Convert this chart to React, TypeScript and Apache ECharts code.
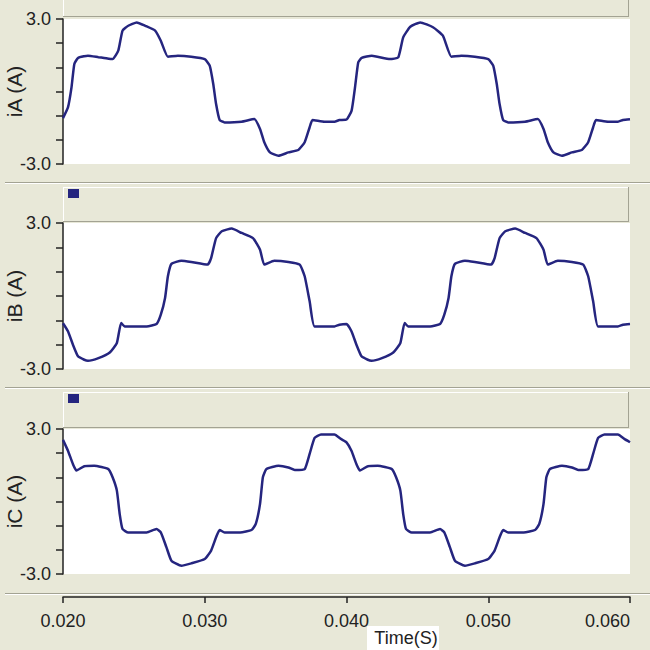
import React, { useEffect, useRef } from "react";
import * as echarts from "echarts";

// Time (s) / current (A) samples
const iA: [number, number][] = [
  [0.0200, -1.10], [0.02035, -0.66], [0.0206, 0.17], [0.0208, 1.14], [0.02106, 1.39],
  [0.0215, 1.46], [0.02176, 1.48], [0.0225, 1.42], [0.0229, 1.39], [0.0235, 1.34],
  [0.0239, 1.69], [0.0242, 2.52], [0.0246, 2.72], [0.0252, 2.86], [0.0258, 2.72],
  [0.0265, 2.52], [0.0269, 2.10], [0.0274, 1.44], [0.0281, 1.48], [0.02905, 1.44],
  [0.0300, 1.34], [0.03035, 1.07], [0.0306, 0.31], [0.0308, -0.52], [0.03105, -1.18],
  [0.0314, -1.28], [0.0326, -1.25], [0.0335, -1.14], [0.0339, -1.55], [0.0342, -2.10],
  [0.0346, -2.52], [0.0352, -2.66], [0.0359, -2.52], [0.0366, -2.42], [0.03705, -2.10],
  [0.0374, -1.48], [0.0376, -1.18], [0.03845, -1.25], [0.03915, -1.25], [0.0395, -1.18],
  [0.0400, -1.16], [0.04036, -0.79], [0.0406, 0.17], [0.04083, 1.21], [0.04107, 1.39],
  [0.04178, 1.48], [0.04307, 1.34], [0.04365, 1.41], [0.0440, 2.24], [0.0445, 2.68],
  [0.0452, 2.86], [0.0461, 2.66], [0.0468, 2.31], [0.0474, 1.44], [0.0481, 1.48],
  [0.04905, 1.44], [0.0500, 1.34], [0.05035, 1.07], [0.0506, 0.31], [0.0508, -0.52],
  [0.05105, -1.18], [0.0514, -1.28], [0.0526, -1.25], [0.0535, -1.14], [0.0539, -1.55],
  [0.0542, -2.10], [0.0546, -2.52], [0.0552, -2.66], [0.0559, -2.52], [0.0566, -2.42],
  [0.05705, -2.10], [0.0574, -1.48], [0.0576, -1.18], [0.05845, -1.25], [0.05915, -1.25],
  [0.0595, -1.18], [0.0600, -1.15],
];

const iB: [number, number][] = [
  [0.0200, -1.12], [0.02035, -1.45], [0.0207, -2.00], [0.02106, -2.48], [0.0215, -2.62],
  [0.02176, -2.66], [0.0225, -2.55], [0.0233, -2.32], [0.0238, -1.93], [0.0241, -1.11],
  [0.02435, -1.25], [0.0259, -1.25], [0.0266, -1.15], [0.0269, -0.77], [0.0272, -0.08],
  [0.0274, 0.81], [0.02765, 1.32], [0.02835, 1.45], [0.02905, 1.40], [0.0302, 1.29],
  [0.03045, 1.56], [0.0308, 2.38], [0.0312, 2.66], [0.0319, 2.77], [0.0326, 2.59],
  [0.0334, 2.38], [0.0339, 1.90], [0.0342, 1.29], [0.0349, 1.45], [0.0359, 1.40],
  [0.0367, 1.29], [0.03705, 0.81], [0.0374, -0.22], [0.03775, -1.25], [0.03915, -1.25],
  [0.0395, -1.18], [0.0400, -1.15], [0.04035, -1.45], [0.0407, -2.00], [0.04106, -2.48],
  [0.0415, -2.62], [0.04176, -2.66], [0.0425, -2.55], [0.0433, -2.32], [0.0438, -1.93],
  [0.0441, -1.11], [0.04435, -1.25], [0.0459, -1.25], [0.0466, -1.15], [0.0469, -0.77],
  [0.0472, -0.08], [0.0474, 0.81], [0.04765, 1.32], [0.04835, 1.45], [0.04905, 1.40],
  [0.0502, 1.29], [0.05045, 1.56], [0.0508, 2.38], [0.0512, 2.66], [0.0519, 2.77],
  [0.0526, 2.59], [0.0534, 2.38], [0.0539, 1.90], [0.0542, 1.29], [0.0549, 1.45],
  [0.0559, 1.40], [0.0567, 1.29], [0.05705, 0.81], [0.0574, -0.22], [0.05775, -1.25],
  [0.05915, -1.25], [0.0595, -1.18], [0.0600, -1.15],
];

const iC: [number, number][] = [
  [0.0200, 2.55], [0.02035, 2.10], [0.0207, 1.55], [0.02095, 1.28], [0.0215, 1.46],
  [0.0222, 1.48], [0.0232, 1.34], [0.0235, 1.00], [0.0238, 0.45], [0.0240, -0.52],
  [0.0242, -1.14], [0.0246, -1.28], [0.0259, -1.28], [0.0266, -1.14], [0.0269, -1.28],
  [0.0273, -1.90], [0.02765, -2.45], [0.02835, -2.66], [0.02905, -2.56], [0.0300, -2.38],
  [0.03045, -2.03], [0.0308, -1.48], [0.03105, -1.18], [0.0314, -1.28], [0.0325, -1.28],
  [0.0333, -1.18], [0.0336, -0.93], [0.0339, -0.10], [0.0341, 1.00], [0.03435, 1.34],
  [0.0352, 1.48], [0.0359, 1.41], [0.03635, 1.30], [0.03705, 1.34], [0.0374, 1.97],
  [0.03775, 2.63], [0.0382, 2.77], [0.03915, 2.77], [0.0396, 2.59], [0.0400, 2.45],
  [0.04035, 2.10], [0.0407, 1.55], [0.04095, 1.28], [0.0415, 1.46], [0.0422, 1.48],
  [0.0432, 1.34], [0.0435, 1.00], [0.0438, 0.45], [0.0440, -0.52], [0.0442, -1.14],
  [0.0446, -1.28], [0.0459, -1.28], [0.0466, -1.14], [0.0469, -1.28], [0.0473, -1.90],
  [0.04765, -2.45], [0.04835, -2.66], [0.04905, -2.56], [0.0500, -2.38], [0.05045, -2.03],
  [0.0508, -1.48], [0.05105, -1.18], [0.0514, -1.28], [0.0525, -1.28], [0.0533, -1.18],
  [0.0536, -0.93], [0.0539, -0.10], [0.0541, 1.00], [0.05435, 1.34], [0.0552, 1.48],
  [0.0559, 1.41], [0.05635, 1.30], [0.05705, 1.34], [0.0574, 1.97], [0.05775, 2.63],
  [0.0582, 2.77], [0.05915, 2.77], [0.0596, 2.59], [0.0600, 2.45],
];

const seriesNames = ["iA (A)", "iB (A)", "iC (A)"];
const xTicks = { min: 0.02, max: 0.06, interval: 0.01 };
const yTicks = { min: -3, max: 3, interval: 1 };
const xAxisTitle = "Time(S)";

const BG = "#E8E8D8";
const DARK = "#A3A393";
const LINE = "#25257F";
const FONT = "'Liberation Sans', Arial, sans-serif";

export default function App() {
  const ref = useRef<HTMLDivElement>(null);
  useEffect(() => {
    if (!ref.current) return;
    const chart = echarts.init(ref.current, undefined, { renderer: "svg" });
    const grids = [
      { left: 63, top: 19, width: 567, height: 145 },
      { left: 63, top: 223, width: 567, height: 146 },
      { left: 63, top: 429, width: 567, height: 145 },
    ];
    const data = [iA, iB, iC];
    const hline = (x1: number, x2: number, y: number, c: string) => ({
      type: "line", silent: true, shape: { x1, y1: y, x2, y2: y }, style: { stroke: c, lineWidth: 1 },
    });
    const vline = (x: number, y1: number, y2: number, c: string) => ({
      type: "line", silent: true, shape: { x1: x, y1, x2: x, y2 }, style: { stroke: c, lineWidth: 1 },
    });
    const header = (top: number, bottom: number, withSquare: boolean) => {
      const els: any[] = [
        hline(63, 628, top + 0.5, "#ffffff"),
        vline(63.5, top, bottom, "#ffffff"),
        hline(63, 629, bottom - 0.5, DARK),
        vline(628.5, top, bottom, DARK),
      ];
      if (withSquare) {
        els.push({ type: "rect", silent: true, shape: { x: 68, y: top + 2, width: 11, height: 9 }, style: { fill: LINE } });
      }
      return els;
    };
    const sep = (y: number) => [hline(5, 650, y + 0.5, DARK), hline(5, 650, y + 1.5, "#ffffff")];

    const option: any = {
      animation: false,
      backgroundColor: BG,
      grid: grids.map((g) => ({
        ...g,
        show: true,
        backgroundColor: "#ffffff",
        borderWidth: 0,
        containLabel: false,
        outerBoundsMode: "none",
      })),
      xAxis: grids.map((_, i) => ({
        type: "value",
        gridIndex: i,
        min: xTicks.min,
        max: xTicks.max,
        interval: xTicks.interval,
        show: i === 2,
        offset: i === 2 ? 23 : 0,
        axisLine: { show: true, onZero: false, lineStyle: { color: "#222", width: 1.5 } },
        axisTick: { show: true, inside: false, length: 6, lineStyle: { color: "#222", width: 1.5 } },
        axisLabel: {
          show: true,
          margin: 15,
          color: "#222",
          fontSize: 18,
          fontFamily: FONT,
          formatter: (v: number) => v.toFixed(3),
          showMinLabel: true,
          showMaxLabel: true,
          alignMaxLabel: "right",
        },
        splitLine: { show: false },
      })),
      yAxis: grids.map((_, i) => ({
        type: "value",
        gridIndex: i,
        min: yTicks.min,
        max: yTicks.max,
        interval: yTicks.interval,
        name: seriesNames[i],
        nameLocation: "middle",
        nameGap: 38,
        nameMoveOverlap: false,
        nameTextStyle: { color: "#222", fontSize: 21, lineHeight: 21, fontFamily: FONT },
        axisLine: { show: true, onZero: false, lineStyle: { color: "#222", width: 1.5 } },
        axisTick: { show: true, inside: false, length: 7, lineStyle: { color: "#222", width: 1.5 } },
        axisLabel: {
          show: true,
          margin: 12,
          color: "#222",
          fontSize: 18,
          fontFamily: FONT,
          showMinLabel: true,
          showMaxLabel: true,
          formatter: (v: number) => (v === yTicks.max || v === yTicks.min ? v.toFixed(1) : ""),
        },
        splitLine: { show: false },
      })),
      series: data.map((d, i) => ({
        type: "line",
        name: seriesNames[i],
        xAxisIndex: i,
        yAxisIndex: i,
        data: d,
        showSymbol: false,
        smooth: 0.15,
        clip: false,
        lineStyle: { color: LINE, width: 2.5 },
        z: 3,
      })),
      graphic: [
        vline(63.5, 0, 17, "#ffffff"),
        hline(63, 629, 16.5, DARK),
        vline(628.5, 0, 17, DARK),
        ...sep(182),
        ...header(187, 222, true),
        ...sep(387),
        ...header(392, 428, true),
        ...sep(593),
        { type: "rect", silent: true, shape: { x: 367, y: 626, width: 72, height: 24 }, style: { fill: "#ffffff" } },
        {
          type: "text",
          silent: true,
          x: 406,
          y: 638,
          style: { text: xAxisTitle, fill: "#222", font: `18px ${FONT}`, align: "center", verticalAlign: "middle" },
        },
      ],
    };
    chart.setOption(option);
    return () => chart.dispose();
  }, []);
  return <div ref={ref} style={{ position: "absolute", left: 0, top: 0, width: 650, height: 650 }} />;
}
